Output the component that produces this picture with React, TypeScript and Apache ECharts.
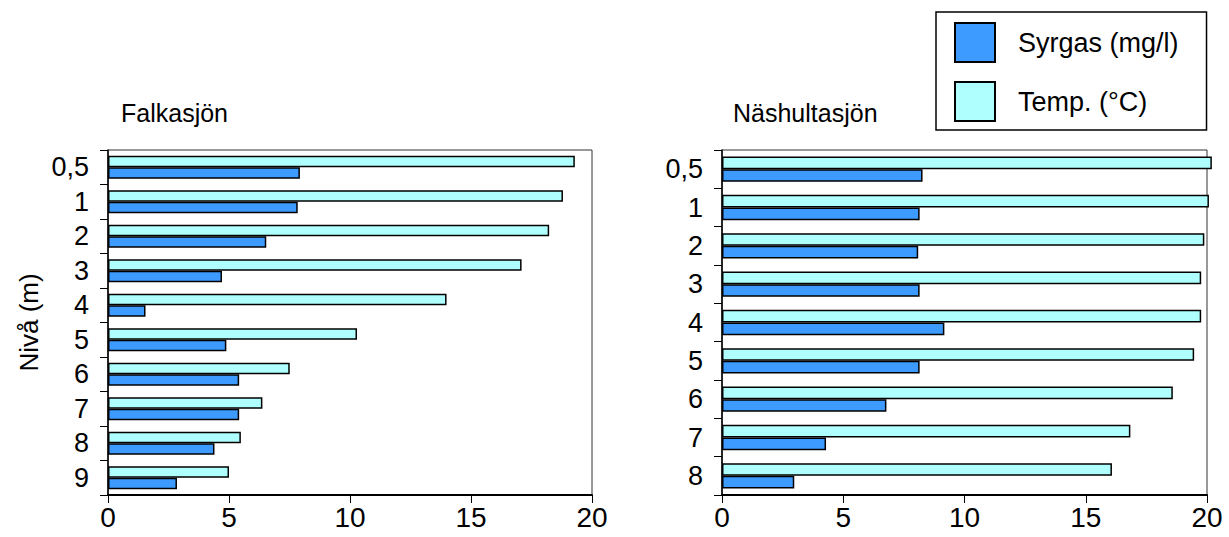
import React, { useEffect, useRef } from "react";
import * as echarts from "echarts";

const levelsFalk = ["0,5", "1", "2", "3", "4", "5", "6", "7", "8", "9"];
const oxyFalk = [7.93, 7.84, 6.54, 4.71, 1.55, 4.89, 5.42, 5.42, 4.4, 2.85];
const tempFalk = [19.29, 18.8, 18.23, 17.09, 13.99, 10.29, 7.51, 6.38, 5.49, 5.0];

const levelsNas = ["0,5", "1", "2", "3", "4", "5", "6", "7", "8"];
const oxyNas = [8.27, 8.15, 8.09, 8.15, 9.17, 8.15, 6.78, 4.29, 2.98];
const tempNas = [20.2, 20.08, 19.89, 19.76, 19.76, 19.47, 18.59, 16.84, 16.08];

const xTicks = [0, 5, 10, 15, 20];
const lakeNames = ["Falkasjön", "Näshultasjön"];
const seriesNames = ["Syrgas (mg/l)", "Temp. (°C)"];
const yAxisName = "Nivå (m)";

const FONT = "Arial, 'Liberation Sans', sans-serif";
const OXY_COLOR = "#3d9bff";
const TEMP_COLOR = "#b0ffff";

export default function App() {
  const ref = useRef<HTMLDivElement>(null);
  useEffect(() => {
    if (!ref.current) return;
    const chart = echarts.init(ref.current, undefined, { renderer: "svg" });
    const xAxisBase = (gridIndex: number) => ({
      type: "value",
      gridIndex,
      min: xTicks[0],
      max: xTicks[xTicks.length - 1],
      interval: 5,
      splitLine: { show: false },
      axisLine: { show: true, lineStyle: { color: "#000", width: 2 } },
      axisTick: { show: true, length: 8, lineStyle: { color: "#000", width: 1 } },
      axisLabel: { color: "#000", fontSize: 28, fontFamily: FONT, margin: 8 },
    });
    const yAxisBase = (gridIndex: number, data: string[]) => ({
      type: "category",
      gridIndex,
      data,
      inverse: true,
      axisLine: { show: true, lineStyle: { color: "#000", width: 1.5 } },
      axisTick: { show: true, length: 8, interval: 0, lineStyle: { color: "#000", width: 1 } },
      axisLabel: { color: "#000", fontSize: 27, fontFamily: FONT, margin: 19, interval: 0 },
    });
    const barBase = {
      type: "bar",
      barGap: "0%",
      barCategoryGap: "34%",
      clip: false,
    };
    const oxyStyle = { color: OXY_COLOR, borderColor: "#000", borderWidth: 1.5 };
    const tempStyle = { color: TEMP_COLOR, borderColor: "#000", borderWidth: 1.5 };
    const titleStyle = { fontSize: 25, fontWeight: "normal", color: "#000", fontFamily: FONT };
    chart.setOption({
      animation: false,
      backgroundColor: "#fff",
      title: [
        { text: lakeNames[0], left: 116, top: 95, textStyle: titleStyle },
        { text: lakeNames[1], left: 728, top: 95, textStyle: titleStyle },
      ],
      legend: {
        orient: "vertical",
        left: 936,
        top: 12,
        padding: [10, 28, 8, 18],
        itemWidth: 40,
        itemHeight: 39,
        itemGap: 18,
        borderColor: "#000",
        borderWidth: 1.5,
        data: [
          { name: seriesNames[0], icon: "rect" },
          { name: seriesNames[1], icon: "rect" },
        ],
        textStyle: { fontSize: 27, color: "#000", fontFamily: FONT, padding: [0, 0, 0, 18] },
        selectedMode: false,
      },
      grid: [
        { left: 108, width: 484, top: 150, bottom: 42, show: true, borderColor: "#333", borderWidth: 1, containLabel: false },
        { left: 722, width: 485, top: 150, bottom: 42, show: true, borderColor: "#333", borderWidth: 1, containLabel: false },
      ],
      xAxis: [xAxisBase(0), xAxisBase(1)],
      yAxis: [
        {
          ...yAxisBase(0, levelsFalk),
          name: yAxisName,
          nameLocation: "middle",
          nameGap: 66,
          nameRotate: 90,
          nameTextStyle: { fontSize: 26, color: "#000", fontFamily: FONT },
        },
        yAxisBase(1, levelsNas),
      ],
      series: [
        { ...barBase, name: seriesNames[1], xAxisIndex: 0, yAxisIndex: 0, data: tempFalk, itemStyle: tempStyle },
        { ...barBase, name: seriesNames[0], xAxisIndex: 0, yAxisIndex: 0, data: oxyFalk, itemStyle: oxyStyle },
        { ...barBase, name: seriesNames[1], xAxisIndex: 1, yAxisIndex: 1, data: tempNas, itemStyle: tempStyle },
        { ...barBase, name: seriesNames[0], xAxisIndex: 1, yAxisIndex: 1, data: oxyNas, itemStyle: oxyStyle },
      ],
    });
    return () => chart.dispose();
  }, []);
  return <div ref={ref} style={{ width: 1229, height: 537, position: "absolute", left: 0, top: 0 }} />;
}
